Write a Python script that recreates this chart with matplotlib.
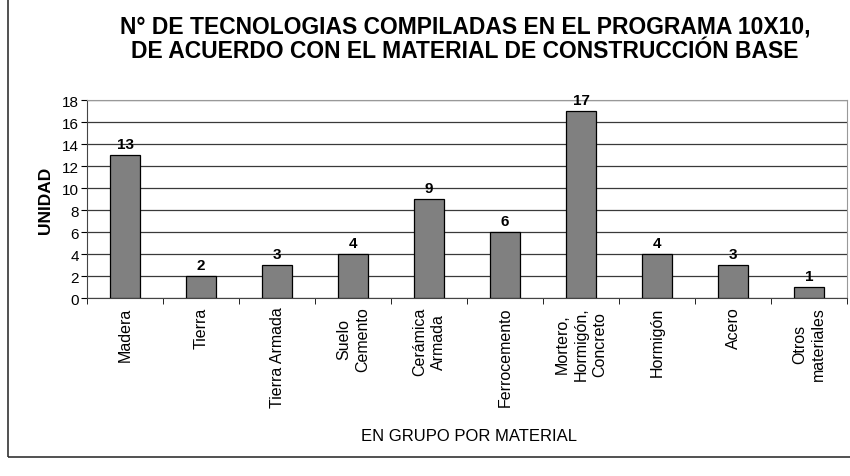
import matplotlib.pyplot as plt
from matplotlib.patches import Rectangle
import numpy as np

plt.rcParams['font.family'] = ['Liberation Sans', 'DejaVu Sans']

materiales = ['Madera', 'Tierra', 'Tierra Armada', 'Suelo\nCemento', 'Cerámica\nArmada',
              'Ferrocemento', 'Mortero,\nHormigón,\nConcreto', 'Hormigón', 'Acero', 'Otros\nmateriales']
cantidades = [13, 2, 3, 4, 9, 6, 17, 4, 3, 1]

fig = plt.figure(figsize=(8.5, 4.77), dpi=100)
ax = fig.add_axes([0.1024, 0.373, 0.8941, 0.415])

# marco exterior de la figura
fig.patches.append(Rectangle((0.0094, 0.04), 1.2, 1.2, transform=fig.transFigure,
                             fill=False, edgecolor='#333333', linewidth=1.2))

x = np.arange(len(materiales))
ax.bar(x, cantidades, width=0.4, color='#808080', edgecolor='black', linewidth=0.9, zorder=3)

for xi, v in zip(x, cantidades):
    ax.text(xi, v + 0.4, str(v), ha='center', va='bottom', fontsize=11, fontweight='bold')

ax.set_xlim(-0.5, len(materiales) - 0.5)
ax.set_ylim(0, 18)
ax.set_yticks(range(0, 19, 2))
ax.yaxis.grid(True, color='#3a3a3a', linewidth=0.9, zorder=0)
ax.tick_params(axis='y', labelsize=11, length=4, direction='out', pad=2)

ax.set_xticks(x)
ax.set_xticklabels(materiales, rotation=90, fontsize=11.5, ha='center', va='top',
                   multialignment='center', linespacing=1.3)
ax.tick_params(axis='x', length=0, pad=6)
ax.set_xticks(np.arange(-0.5, len(materiales), 1), minor=True)
ax.tick_params(axis='x', which='minor', length=4, direction='out')

for s in ['top', 'right']:
    ax.spines[s].set_color('#999999')
ax.spines['left'].set_color('#444444')
ax.spines['bottom'].set_color('#444444')

ax.set_ylabel('UNIDAD', fontsize=12.5, fontweight='bold', labelpad=6)
fig.text(0.552, 0.084, 'EN GRUPO POR MATERIAL', ha='center', va='center', fontsize=12)

fig.text(0.547, 0.918, 'N° DE TECNOLOGIAS COMPILADAS EN EL PROGRAMA 10X10,\nDE ACUERDO CON EL MATERIAL DE CONSTRUCCIÓN BASE',
         ha='center', va='center', fontsize=16.5, fontweight='bold', linespacing=1.1)

fig.savefig('out.png', dpi=100)
